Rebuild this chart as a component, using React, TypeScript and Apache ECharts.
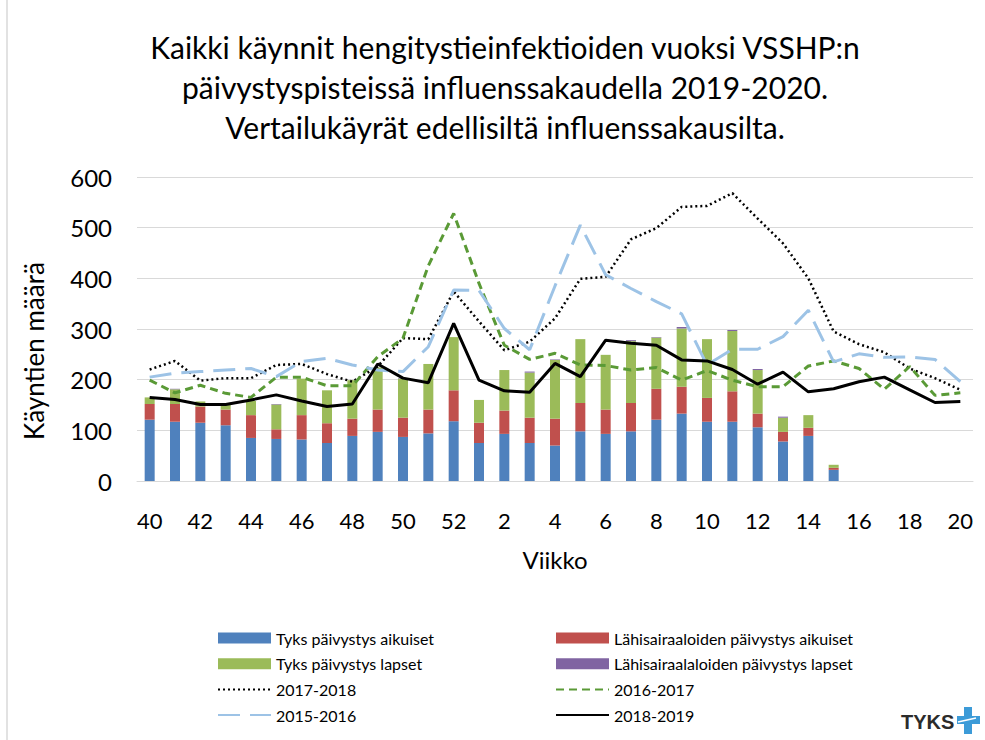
import React, { useEffect, useRef } from "react";
import * as echarts from "echarts";

const weeks = ["40","41","42","43","44","45","46","47","48","49","50","51","52","1","2","3","4","5","6","7","8","9","10","11","12","13","14","15","16","17","18","19","20"];

const tyksAikuiset = [121,117,115,110,85,83,82,75,89,97,87,94,118,75,93,75,70,98,93,98,121,133,117,117,106,78,89,22];
const lahiAikuiset = [31,35,32,31,45,19,48,39,34,44,38,47,61,40,46,50,53,56,48,56,61,53,47,60,27,19,16,4];
const tyksLapset = [13,29,10,10,28,49,72,65,76,83,77,90,105,45,80,89,116,126,108,122,101,115,116,119,86,28,25,6];
const lahiLapset = [0,1,0,0,0,1,0,0,0,0,1,0,0,0,0,2,1,0,0,2,1,3,0,2,2,2,0,0];

const s2017_2018 = [220,237,198,203,203,229,231,211,196,226,282,280,374,315,258,275,321,399,403,477,499,541,543,568,518,469,400,295,270,254,222,203,180];
const s2016_2017 = [199,174,189,173,165,205,205,188,188,245,282,425,528,390,268,240,252,229,228,219,224,199,218,199,186,186,227,237,222,181,226,169,174];
const s2015_2016 = [205,213,216,219,222,206,236,242,229,219,216,265,377,376,301,259,385,505,407,380,354,330,229,260,260,285,337,235,251,244,245,240,196];
const s2018_2019 = [165,161,151,151,160,170,158,147,152,231,203,194,311,199,178,175,232,206,278,272,268,239,237,220,191,215,176,182,196,205,180,155,157];

const yTicks = { min: 0, max: 600, interval: 100 };

const FONT = "Lato";

export default function App() {
  const ref = useRef<HTMLDivElement>(null);
  useEffect(() => {
    if (!ref.current) return;
    const chart = echarts.init(ref.current, null, { renderer: "svg" });
    const bar = (name: string, data: number[], color: string) => ({
      name,
      type: "bar",
      stack: "total",
      data,
      barWidth: 10,
      itemStyle: { color },
    });
    const line = (name: string, data: number[], color: string, type: any, width: number) => ({
      name,
      type: "line",
      data,
      symbol: "none",
      showSymbol: false,
      lineStyle: { color, type, width, cap: "butt" },
      itemStyle: { color },
      z: 5,
    });
    const lineItem = (name: string) => ({ name, itemStyle: { opacity: 0 } });
    const legendBase = {
      orient: "vertical",
      top: 630,
      padding: 0,
      itemWidth: 53,
      itemHeight: 11,
      itemGap: 9.7,
      textStyle: { fontFamily: FONT, fontSize: 16, color: "#000", lineHeight: 16 },
    };
    chart.setOption({
      animation: false,
      backgroundColor: "#ffffff",
      textStyle: { fontFamily: FONT },
      title: {
        text: "Kaikki käynnit hengitystieinfektioiden vuoksi VSSHP:n\npäivystyspisteissä influenssakaudella 2019-2020.\nVertailukäyrät edellisiltä influenssakausilta.",
        left: 500,
        top: 22,
        textAlign: "center",
        textStyle: { fontFamily: FONT, fontSize: 30, fontWeight: "normal", color: "#000", lineHeight: 40 },
      },
      grid: { left: 137, right: 12, top: 177, bottom: 259, containLabel: false },
      legend: [
        {
          ...legendBase,
          left: 217,
          data: [
            { name: "Tyks päivystys aikuiset", icon: "rect" },
            { name: "Tyks päivystys lapset", icon: "rect" },
            lineItem("2017-2018"),
            lineItem("2015-2016"),
          ],
        },
        {
          ...legendBase,
          left: 555,
          data: [
            { name: "Lähisairaaloiden päivystys aikuiset", icon: "rect" },
            { name: "Lähisairaalaloiden päivystys lapset", icon: "rect" },
            lineItem("2016-2017"),
            lineItem("2018-2019"),
          ],
        },
      ],
      xAxis: {
        type: "category",
        data: weeks,
        boundaryGap: true,
        name: "Viikko",
        nameLocation: "middle",
        nameGap: 66,
        nameTextStyle: { fontFamily: FONT, fontSize: 24, color: "#000" },
        axisLine: { lineStyle: { color: "#d9d9d9", width: 1 } },
        axisTick: { show: false },
        axisLabel: { interval: 1, fontFamily: FONT, fontSize: 22, color: "#000", margin: 28 },
      },
      yAxis: {
        type: "value",
        min: yTicks.min,
        max: yTicks.max,
        interval: yTicks.interval,
        name: "Käyntien määrä",
        nameLocation: "middle",
        nameGap: 90,
        nameRotate: 90,
        nameTextStyle: { fontFamily: FONT, fontSize: 26, color: "#000", padding: [0, 44, 0, 0] },
        axisLine: { show: false },
        axisTick: { show: false },
        axisLabel: { fontFamily: FONT, fontSize: 24, color: "#000", margin: 25 },
        splitLine: { lineStyle: { color: "#d9d9d9", width: 1 } },
      },
      series: [
        bar("Tyks päivystys aikuiset", tyksAikuiset, "#4F81BD"),
        bar("Lähisairaaloiden päivystys aikuiset", lahiAikuiset, "#C0504D"),
        bar("Tyks päivystys lapset", tyksLapset, "#9BBB59"),
        bar("Lähisairaalaloiden päivystys lapset", lahiLapset, "#8064A2"),
        line("2017-2018", s2017_2018, "#000000", [2, 3], 2.5),
        line("2016-2017", s2016_2017, "#5A9A36", [8, 5], 3),
        line("2015-2016", s2015_2016, "#9DC3E6", [22, 10], 3),
        line("2018-2019", s2018_2019, "#000000", "solid", 3),
      ],
      graphic: [
        { type: "line", shape: { x1: 7, y1: 0, x2: 7, y2: 740 }, style: { stroke: "#d9d9d9", lineWidth: 1.5 } },
        {
          type: "text",
          left: 901,
          top: 712,
          style: { text: "TYKS", font: "bold 20px 'Liberation Sans', Arial, sans-serif", fill: "#2b2b2b" },
        },
        {
          type: "polygon",
          shape: {
            points: [
              [964, 707], [972, 707], [972, 716], [980, 716], [980, 724],
              [972, 724], [972, 734], [964, 734], [964, 724], [957, 724],
              [957, 716], [964, 716],
            ],
          },
          style: { fill: "#3C9BD8" },
        },
        { type: "line", shape: { x1: 958, y1: 722, x2: 976, y2: 718 }, style: { stroke: "#ffffff", lineWidth: 1.5 } },
      ],
    });
    return () => chart.dispose();
  }, []);
  return <div ref={ref} style={{ position: "fixed", left: 0, top: 0, width: 985, height: 740 }} />;
}
